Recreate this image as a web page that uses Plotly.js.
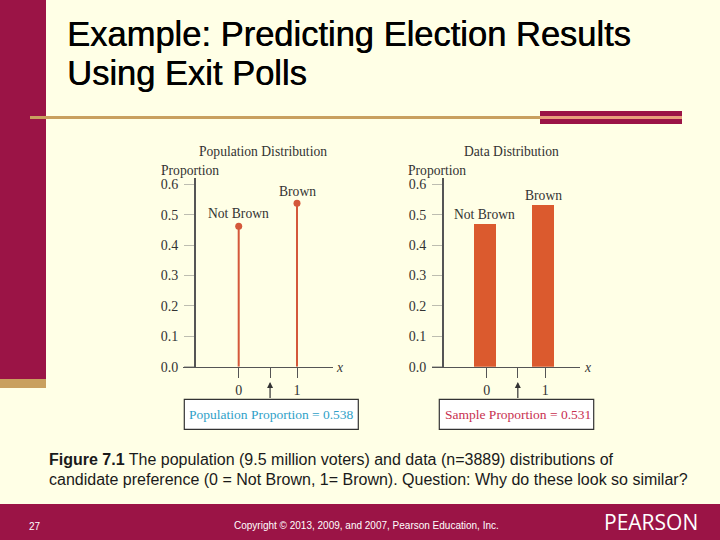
<!DOCTYPE html>
<html><head><meta charset="utf-8">
<script src="https://cdn.plot.ly/plotly-3.0.1.min.js"></script>
<style>html,body{margin:0;padding:0;background:#ffffe6}#c{width:720px;height:540px}</style>
</head><body><div id="c"></div>
<script>
const categories = ["Not Brown", "Brown"];
const xValues = [0, 1];
const populationValues = [0.462, 0.538];
const sampleValues = [0.469, 0.531];
const populationProportion = 0.538;
const sampleProportion = 0.531;
const yTicks = [0, 0.1, 0.2, 0.3, 0.4, 0.5, 0.6];
const yTickLabels = ["0.0", "0.1", "0.2", "0.3", "0.4", "0.5", "0.6"];

const W = 720, H = 540;
const BG = "#ffffe6", WINE = "#9b1446", TAN = "#c9a05f", SALMON = "#e8a07c", RED = "#db5a2e", STEM = "#d4583a";
const SERIF = "Liberation Serif", SANS = "Liberation Sans";
const LBL = 13.6;
const px = v => v / W, py = v => 1 - v / H;
const y0 = 366.7, yTop = 178.2, yMax = 0.62;

function xRange(left, right, at0, at1) {
  const s = at1 - at0;
  return [(left - at0) / s, (right - at0) / s];
}
function xAxis(dom, rng, mid) {
  return { domain: [px(dom[0]), px(dom[1])], range: rng, anchor: mid.anchor, showgrid: false, zeroline: false,
    showline: true, linecolor: "#555", linewidth: 1.5, ticks: "outside", ticklen: 10, tickcolor: "#555", tickwidth: 1,
    tickmode: "array", tickvals: [0, mid.v, 1], ticktext: ["0", "", "1"],
    tickfont: { family: SERIF, size: 14, color: "#333" }, fixedrange: true };
}
function yAxis(pos) {
  return { domain: [py(y0), py(yTop)], range: [0, yMax], anchor: "free", position: px(pos),
    showgrid: false, zeroline: false, showline: true, linecolor: "#555", linewidth: 1.5,
    ticks: "outside", ticklen: 10, tickcolor: "#bdbdb0", tickwidth: 1, ticklabelstandoff: 3,
    tickmode: "array", tickvals: yTicks, ticktext: yTickLabels,
    tickfont: { family: SERIF, size: 14, color: "#333" }, fixedrange: true };
}

const traces = [
  { type: "scatter", mode: "markers", x: xValues, y: populationValues, xaxis: "x", yaxis: "y",
    marker: { color: STEM, size: 7 }, cliponaxis: false,
    error_y: { type: "data", symmetric: false, array: [0, 0], arrayminus: populationValues, color: STEM, thickness: 2, width: 0 },
    hoverinfo: "skip", showlegend: false },
  { type: "bar", x: xValues, y: sampleValues, xaxis: "x2", yaxis: "y2", width: 0.375, offset: -0.22,
    marker: { color: RED, line: { width: 0 } }, hoverinfo: "skip", showlegend: false }
];

function txt(text, x, y, size, color, family, anchor, extra) {
  return { text, x: px(x), y: py(y), xref: "paper", yref: "paper", showarrow: false,
    xanchor: anchor || "center", yanchor: "middle",
    font: Object.assign({ family: family || SERIF, size, color: color || "#333" }, extra || {}) };
}
function dataTxt(text, x, val, shift, ax) {
  return { text, x, y: val, xref: ax.x, yref: ax.y, showarrow: false, yshift: shift, xshift: ax.dx || 0,
    xanchor: "center", yanchor: "middle", font: { family: SERIF, size: LBL, color: "#333" } };
}
function arrow(xref, v) {
  return { text: " ", x: v, y: py(382), xref, yref: "paper", showarrow: true, ax: 0, ay: 18,
    font: { size: 1 }, arrowhead: 2, arrowsize: 1, arrowwidth: 1.2, arrowcolor: "#333" };
}
function rect(x0, x1, ya, yb, fill, line) {
  return { type: "rect", xref: "paper", yref: "paper", layer: "below", x0: px(x0), x1: px(x1), y0: py(yb), y1: py(ya),
    fillcolor: fill, line: line ? { color: line, width: 1.2 } : { width: 0 } };
}
const heavy = { shadow: "0.5px 0 0 #000" };

const layout = {
  width: W, height: H, margin: { l: 0, r: 0, t: 0, b: 0 }, paper_bgcolor: BG, plot_bgcolor: "rgba(0,0,0,0)",
  showlegend: false, bargap: 0,
  xaxis: xAxis([183, 332.7], xRange(183, 332.7, 238.7, 297), { anchor: "y", v: populationProportion }),
  yaxis: yAxis(194),
  xaxis2: xAxis([431.7, 580], xRange(431.7, 580, 486.7, 545.3), { anchor: "y2", v: sampleProportion }),
  yaxis2: yAxis(442),
  shapes: [
    rect(0, 46, 0, 379, WINE),
    rect(0, 46, 379, 388, TAN),
    rect(540, 682, 111, 124, WINE),
    rect(30, 540, 116, 119, TAN),
    rect(540, 682, 116, 119, SALMON),
    rect(0, 720, 504, 540, WINE),
    rect(184.3, 358.3, 399.3, 429.3, "#ffffff", "#333"),
    rect(439.3, 593.7, 399.3, 429.3, "#ffffff", "#333")
  ],
  annotations: [
    txt("Example: Predicting Election Results", 65, 34, 34.5, "#000", SANS, "left", heavy),
    txt("Using Exit Polls", 65, 73, 34.5, "#000", SANS, "left", heavy),
    txt("Population Distribution", 263, 152, LBL),
    txt("Data Distribution", 511, 152, LBL),
    txt("Proportion", 159, 170, LBL, "#333", SERIF, "left"),
    txt("Proportion", 406, 170, LBL, "#333", SERIF, "left"),
    txt("<i>x</i>", 339, 367, LBL),
    txt("<i>x</i>", 587, 367, LBL),
    dataTxt(categories[0], xValues[0], populationValues[0], 13, { x: "x", y: "y" }),
    dataTxt(categories[1], xValues[1], populationValues[1], 12, { x: "x", y: "y" }),
    dataTxt(categories[0], xValues[0], sampleValues[0], 10, { x: "x2", y: "y2", dx: -2 }),
    dataTxt(categories[1], xValues[1], sampleValues[1], 10, { x: "x2", y: "y2", dx: -2 }),
    arrow("x", populationProportion),
    arrow("x2", sampleProportion),
    txt("Population Proportion = " + populationProportion, 271, 414, 13.5, "#2f9fc8"),
    txt("Sample Proportion = " + sampleProportion, 517.5, 414, 13.5, "#c8304f"),
    txt("<b>Figure 7.1</b> The population (9.5 million voters) and data (n=3889) distributions of", 47, 459, 16, "#1a1a1a", SANS, "left"),
    txt("candidate preference (0 = Not Brown, 1= Brown). Question: Why do these look so similar?", 47, 479, 16, "#1a1a1a", SANS, "left"),
    txt("27", 35, 526, 10, "#ffffff", SANS),
    txt("Copyright © 2013, 2009, and 2007, Pearson Education, Inc.", 366, 525, 10, "#ffffff", SANS),
    txt("PEARSON", 651, 522, 21, "#ffffff", "Open Sans")
  ]
};
Plotly.newPlot("c", traces, layout, { displayModeBar: false, staticPlot: true });
</script></body></html>
